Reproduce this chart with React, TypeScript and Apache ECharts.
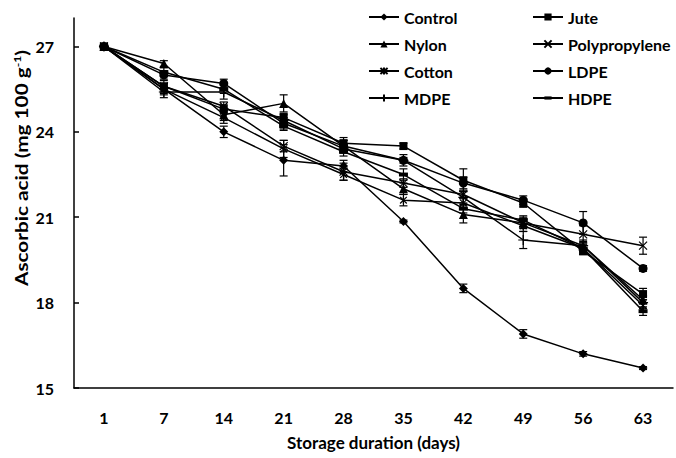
import React, { useEffect, useRef } from "react";
import * as echarts from "echarts";

const days = ["1", "7", "14", "21", "28", "35", "42", "49", "56", "63"];
const yTicks = [15, 18, 21, 24, 27];

const control = [27, 25.5, 24.0, 23.0, 22.8, 20.85, 18.5, 16.9, 16.2, 15.7];
const jute = [27, 25.6, 24.8, 24.5, 23.6, 23.5, 22.3, 21.5, 19.8, 18.3];
const nylon = [27, 26.4, 24.6, 25.0, 23.5, 22.0, 21.1, 20.8, 20.0, 18.1];
const polypropylene = [27, 25.6, 24.9, 23.5, 22.6, 22.2, 21.8, 20.8, 20.4, 20.0];
const cotton = [27, 25.5, 24.5, 23.4, 22.5, 21.6, 21.5, 20.7, 19.9, 17.9];
const ldpe = [27, 26.0, 25.7, 24.3, 23.5, 23.0, 22.2, 21.6, 20.8, 19.2];
const mdpe = [27, 25.4, 25.4, 24.4, 23.4, 23.0, 21.7, 20.2, 20.0, 18.0];
const hdpe = [27, 26.1, 25.5, 24.2, 23.3, 22.5, 21.3, 20.9, 19.9, 17.7];

const controlErr = [0, 0.2, 0.2, 0.55, 0.2, 0.05, 0.15, 0.15, 0.08, 0.05];
const juteErr = [0, 0.2, 0.15, 0.15, 0.2, 0.1, 0.4, 0.15, 0.1, 0.2];
const nylonErr = [0, 0.1, 0.2, 0.3, 0.2, 0.2, 0.3, 0.15, 0.15, 0.15];
const polypropyleneErr = [0, 0.1, 0.15, 0.2, 0.3, 0.15, 0.15, 0.2, 0.3, 0.3];
const cottonErr = [0, 0.15, 0.2, 0.3, 0.2, 0.2, 0.2, 0.2, 0.2, 0.2];
const ldpeErr = [0, 0.15, 0.15, 0.2, 0.2, 0.1, 0.2, 0.15, 0.4, 0.1];
const mdpeErr = [0, 0.2, 0.25, 0.2, 0.15, 0.2, 0.2, 0.3, 0.2, 0.2];
const hdpeErr = [0, 0.15, 0.15, 0.15, 0.15, 0.2, 0.15, 0.15, 0.15, 0.15];

const FONT = "Lato, 'Open Sans', sans-serif";

const X_SYM = "path://M0,0L10,10M10,0L0,10";
const STAR_SYM = "path://M0,0L10,10M10,0L0,10M5,-1L5,11";
const PLUS_SYM = "path://M5,0L5,10M0,5L10,5";
const DASH_SYM = "path://M0,0M10,10M0,2.8L10,2.8L10,7.2L0,7.2Z";

const defs = [
  { name: "Control", data: control, err: controlErr, symbol: "diamond", size: 9, stroke: false },
  { name: "Jute", data: jute, err: juteErr, symbol: "rect", size: 8, stroke: false },
  { name: "Nylon", data: nylon, err: nylonErr, symbol: "triangle", size: 9, stroke: false },
  { name: "Polypropylene", data: polypropylene, err: polypropyleneErr, symbol: X_SYM, size: 8, stroke: true },
  { name: "Cotton", data: cotton, err: cottonErr, symbol: STAR_SYM, size: 8, stroke: true },
  { name: "LDPE", data: ldpe, err: ldpeErr, symbol: "circle", size: 9, stroke: false },
  { name: "MDPE", data: mdpe, err: mdpeErr, symbol: PLUS_SYM, size: 10, stroke: true },
  { name: "HDPE", data: hdpe, err: hdpeErr, symbol: DASH_SYM, size: 9, stroke: false },
];

export default function App() {
  const ref = useRef<HTMLDivElement>(null);
  useEffect(() => {
    document.body.style.margin = "0";
    if (!ref.current) return;
    const chart = echarts.init(ref.current, null, { renderer: "svg" });

    const lineSeries = defs.map((d) => ({
      type: "line",
      name: d.name,
      data: d.data,
      symbol: d.symbol,
      symbolSize: d.size,
      symbolKeepAspect: true,
      showAllSymbol: true,
      z: 3,
      lineStyle: { color: "#000", width: 1.5 },
      itemStyle: d.stroke
        ? { color: "#000", borderColor: "#000", borderWidth: 1.2 }
        : { color: "#000", borderWidth: 0 },
    }));

    const errSeries = defs.map((d) => ({
      type: "custom",
      name: d.name + " error",
      z: 2,
      data: d.data.map((v, i) => [i, v - d.err[i], v + d.err[i]]),
      encode: { x: 0, y: [1, 2] },
      renderItem: (params: any, api: any) => {
        const i = api.value(0);
        const lo = api.coord([i, api.value(1)]);
        const hi = api.coord([i, api.value(2)]);
        const hw = 4;
        const st = { stroke: "#000", lineWidth: 1.2 };
        return {
          type: "group",
          children: [
            { type: "line", shape: { x1: lo[0], y1: lo[1], x2: hi[0], y2: hi[1] }, style: st },
            { type: "line", shape: { x1: lo[0] - hw, y1: lo[1], x2: lo[0] + hw, y2: lo[1] }, style: st },
            { type: "line", shape: { x1: hi[0] - hw, y1: hi[1], x2: hi[0] + hw, y2: hi[1] }, style: st },
          ],
        };
      },
    }));

    const legendCommon = {
      orient: "vertical",
      top: 4,
      itemWidth: 30,
      itemHeight: 9,
      itemGap: 11,
      textStyle: { fontFamily: FONT, fontWeight: "bold", fontSize: 16, color: "#000" },
    };

    chart.setOption({
      animation: false,
      backgroundColor: "#fff",
      grid: { left: 74, right: 3, top: 18, bottom: 70, outerBoundsMode: "none" },
      legend: [
        { ...legendCommon, left: 363, data: ["Control", "Nylon", "Cotton", "MDPE"] },
        { ...legendCommon, left: 527, data: ["Jute", "Polypropylene", "LDPE", "HDPE"] },
      ],
      xAxis: {
        type: "category",
        data: days,
        boundaryGap: true,
        axisLine: { lineStyle: { color: "#000", width: 1.5 } },
        axisTick: { inside: true, length: 5, lineStyle: { color: "#000", width: 1.5 } },
        axisLabel: { margin: 21, fontFamily: FONT, fontWeight: "bold", fontSize: 16, color: "#000" },
        name: "Storage duration (days)",
        nameLocation: "middle",
        nameGap: 46,
        nameTextStyle: { fontFamily: FONT, fontWeight: "bold", fontSize: 17, color: "#000" },
        splitLine: { show: false },
      },
      yAxis: {
        type: "value",
        min: 15,
        max: 28,
        interval: 3,
        axisLine: { show: true, lineStyle: { color: "#000", width: 1.5 } },
        axisTick: { show: true, inside: true, length: 5, lineStyle: { color: "#000", width: 1.5 }, customValues: yTicks },
        axisLabel: { margin: 20, fontFamily: FONT, fontWeight: "bold", fontSize: 16, color: "#000", customValues: yTicks },
        splitLine: { show: false },
      },
      graphic: [
        {
          type: "text",
          x: 21,
          y: 168,
          rotation: Math.PI / 2,
          scaleX: 1.22,
          style: {
            text: "Ascorbic acid (mg 100 g{sup|-1})",
            align: "center",
            verticalAlign: "middle",
            fontFamily: FONT,
            fontWeight: "bold",
            fontSize: 17,
            fill: "#000",
            rich: {
              sup: { fontFamily: FONT, fontWeight: "bold", fontSize: 10, fill: "#000", verticalAlign: "top", padding: [0, 0, 8, 0] },
            },
          },
        },
      ],
      series: [...errSeries, ...lineSeries],
    });

    return () => chart.dispose();
  }, []);
  return <div ref={ref} style={{ width: 676, height: 458 }} />;
}
